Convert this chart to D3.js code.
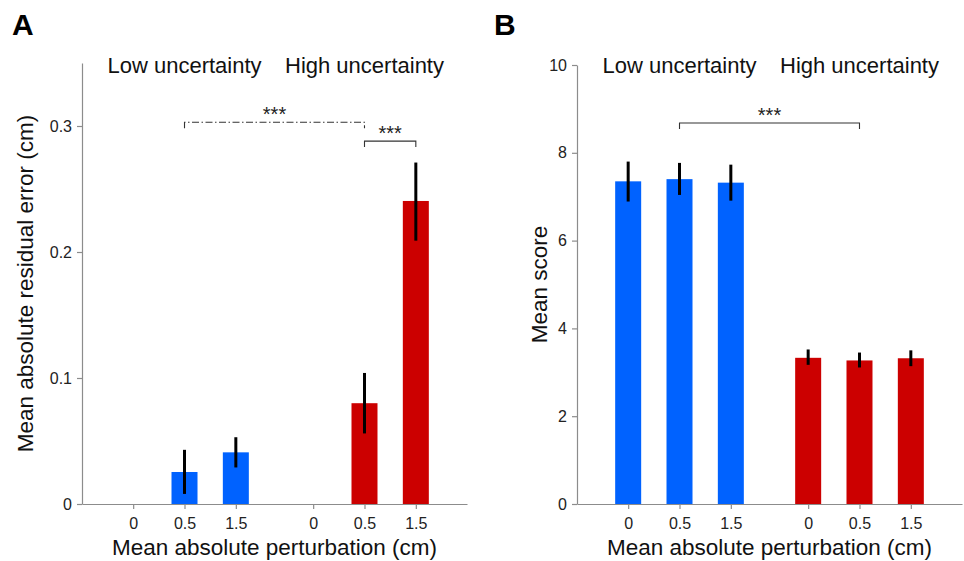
<!DOCTYPE html>
<html>
<head>
<meta charset="utf-8">
<script src="https://cdn.jsdelivr.net/npm/d3@7"></script>
<style>
  body { margin: 0; background: #fff; }
  svg { display: block; font-family: Arial, "Liberation Sans", sans-serif; }
  .axis path, .axis line { stroke: #8c8c8c; stroke-width: 1.2; }
  .axis text { fill: #222; }
</style>
</head>
<body>
<div id="chart"></div>
<script>
// Chart data
var conditions = ["Low uncertainty", "High uncertainty"];
var perturbations = ["0", "0.5", "1.5"];

// panel A: mean absolute residual error (cm), bars + error bar ends
var residualLow = [0, 0.0254, 0.041];
var residualLowLo = [null, 0.008, 0.029];
var residualLowHi = [null, 0.043, 0.053];
var residualHigh = [0, 0.080, 0.2405];
var residualHighLo = [null, 0.056, 0.209];
var residualHighHi = [null, 0.104, 0.271];
var residualTicks = [0, 0.1, 0.2, 0.3];

// panel B: mean score
var scoreLow = [7.35, 7.40, 7.32];
var scoreLowLo = [6.89, 7.04, 6.91];
var scoreLowHi = [7.80, 7.77, 7.73];
var scoreHigh = [3.33, 3.27, 3.32];
var scoreHighLo = [3.17, 3.11, 3.14];
var scoreHighHi = [3.52, 3.45, 3.50];
var scoreTicks = [0, 2, 4, 6, 8, 10];

// significance brackets: [condition, perturbation] -> [condition, perturbation], height
var residualSig = [
  { from: [0, "0.5"], to: [1, "0.5"], at: 0.303, label: "***", dashed: true },
  { from: [1, "0.5"], to: [1, "1.5"], at: 0.288, label: "***", dashed: false }
];
var scoreSig = [
  { from: [0, "0.5"], to: [1, "0.5"], at: 8.68, label: "***", dashed: false }
];

var colors = ["#0062ff", "#cc0000"];

var svgWidth = 964;
var svgHeight = 561;

var svg = d3.select("#chart")
  .append("svg")
  .attr("width", svgWidth)
  .attr("height", svgHeight);

svg.append("rect")
  .attr("width", svgWidth)
  .attr("height", svgHeight)
  .attr("fill", "#fff");

function toRows(means, lo, hi, cond) {
  return perturbations.map(function(p, i) {
    return { cond: cond, p: p, value: means[i], lo: lo[i], hi: hi[i] };
  });
}

function drawPanel(opt) {
  var width = 385;
  var top = opt.top, bottom = 504;
  var g = svg.append("g").attr("transform", `translate(${opt.left}, 0)`);

  // outer band per condition, inner band per perturbation level
  var x0 = d3.scaleBand()
    .domain(d3.range(conditions.length))
    .range([0, width])
    .paddingInner(0.1444)
    .paddingOuter(0.1417);

  var x1 = d3.scaleBand()
    .domain(perturbations)
    .range([0, x0.bandwidth()])
    .paddingInner(0.4935)
    .paddingOuter(0.2468);

  var y = d3.scaleLinear()
    .domain(opt.domain)
    .range([bottom, top]);

  var cx = function(c, p) { return x0(c) + x1(p) + x1.bandwidth() / 2; };

  // axes
  var yAxis = d3.axisLeft(y)
    .tickValues(opt.ticks)
    .tickFormat(d3.format(opt.fmt))
    .tickSizeInner(5)
    .tickSizeOuter(0)
    .tickPadding(5);

  g.append("g").attr("class", "axis")
    .call(yAxis)
    .attr("font-size", 16);

  // x axis: tick per condition/perturbation
  var xTicks = [];
  conditions.forEach(function(c, ci) {
    perturbations.forEach(function(p) { xTicks.push({ c: ci, p: p }); });
  });
  var xLin = d3.scaleLinear().domain([0, width]).range([0, width]);
  var xAxis = d3.axisBottom(xLin)
    .tickValues(xTicks.map(function(t) { return cx(t.c, t.p); }))
    .tickFormat(function(d, i) { return xTicks[i].p; })
    .tickSizeInner(5)
    .tickSizeOuter(0)
    .tickPadding(9);

  g.append("g").attr("class", "axis")
    .attr("transform", `translate(0, ${bottom})`)
    .call(xAxis)
    .attr("font-size", 16);

  // bars
  conditions.forEach(function(c, ci) {
    var rows = toRows(opt.means[ci], opt.lo[ci], opt.hi[ci], ci)
      .filter(function(d) { return d.value > 0; });

    g.selectAll(".bar" + ci).data(rows)
      .enter()
      .append("rect")
      .attr("x", function(d) { return x0(d.cond) + x1(d.p); })
      .attr("y", function(d) { return y(d.value); })
      .attr("width", x1.bandwidth())
      .attr("height", function(d) { return bottom - y(d.value); })
      .attr("fill", colors[ci]);

    g.selectAll(".err" + ci).data(rows)
      .enter()
      .append("line")
      .attr("x1", function(d) { return cx(d.cond, d.p); })
      .attr("x2", function(d) { return cx(d.cond, d.p); })
      .attr("y1", function(d) { return y(d.lo); })
      .attr("y2", function(d) { return y(d.hi); })
      .attr("stroke", "#000")
      .attr("stroke-width", 3);
  });

  // significance brackets
  opt.sig.forEach(function(s) {
    var xa = cx(s.from[0], s.from[1]);
    var xb = cx(s.to[0], s.to[1]);
    var yy = y(s.at);
    g.append("path")
      .attr("d", `M${xa},${yy + 6}V${yy}H${xb}V${yy + 6}`)
      .attr("fill", "none")
      .attr("stroke", "#333")
      .attr("stroke-width", 1.1)
      .attr("stroke-dasharray", s.dashed ? "7,2.5,1.5,2.5" : null);
    g.append("text")
      .attr("x", (xa + xb) / 2)
      .attr("y", yy - 1)
      .attr("text-anchor", "middle")
      .style("font-size", "20px")
      .style("fill", "#222")
      .text(s.label);
  });

  // condition titles
  conditions.forEach(function(c, ci) {
    g.append("text")
      .attr("x", cx(ci, "0.5"))
      .attr("y", 73)
      .attr("text-anchor", "middle")
      .style("font-size", "22px")
      .style("fill", "#111")
      .text(c);
  });

  // axis labels
  g.append("text")
    .attr("x", width / 2)
    .attr("y", 555)
    .attr("text-anchor", "middle")
    .style("font-size", "22.5px")
    .style("fill", "#111")
    .text("Mean absolute perturbation (cm)");

  g.append("text")
    .attr("transform", "rotate(-90)")
    .attr("x", -(top + bottom) / 2)
    .attr("y", opt.yLabelX)
    .attr("text-anchor", "middle")
    .style("font-size", "22.5px")
    .style("fill", "#111")
    .text(opt.yLabel);

  // panel letter
  svg.append("text")
    .attr("x", opt.letterX)
    .attr("y", 35)
    .style("font-size", "30px")
    .style("font-weight", "bold")
    .style("fill", "#000")
    .text(opt.letter);
}

drawPanel({
  left: 82, top: 63, domain: [0, 0.35], ticks: residualTicks, fmt: ".1~f",
  means: [residualLow, residualHigh],
  lo: [residualLowLo, residualHighLo],
  hi: [residualLowHi, residualHighHi],
  sig: residualSig,
  yLabel: "Mean absolute residual error (cm)", yLabelX: -49,
  letter: "A", letterX: 12
});

drawPanel({
  left: 577, top: 65, domain: [0, 10], ticks: scoreTicks, fmt: "d",
  means: [scoreLow, scoreHigh],
  lo: [scoreLowLo, scoreHighLo],
  hi: [scoreLowHi, scoreHighHi],
  sig: scoreSig,
  yLabel: "Mean score", yLabelX: -30,
  letter: "B", letterX: 494
});
</script>
</body>
</html>
